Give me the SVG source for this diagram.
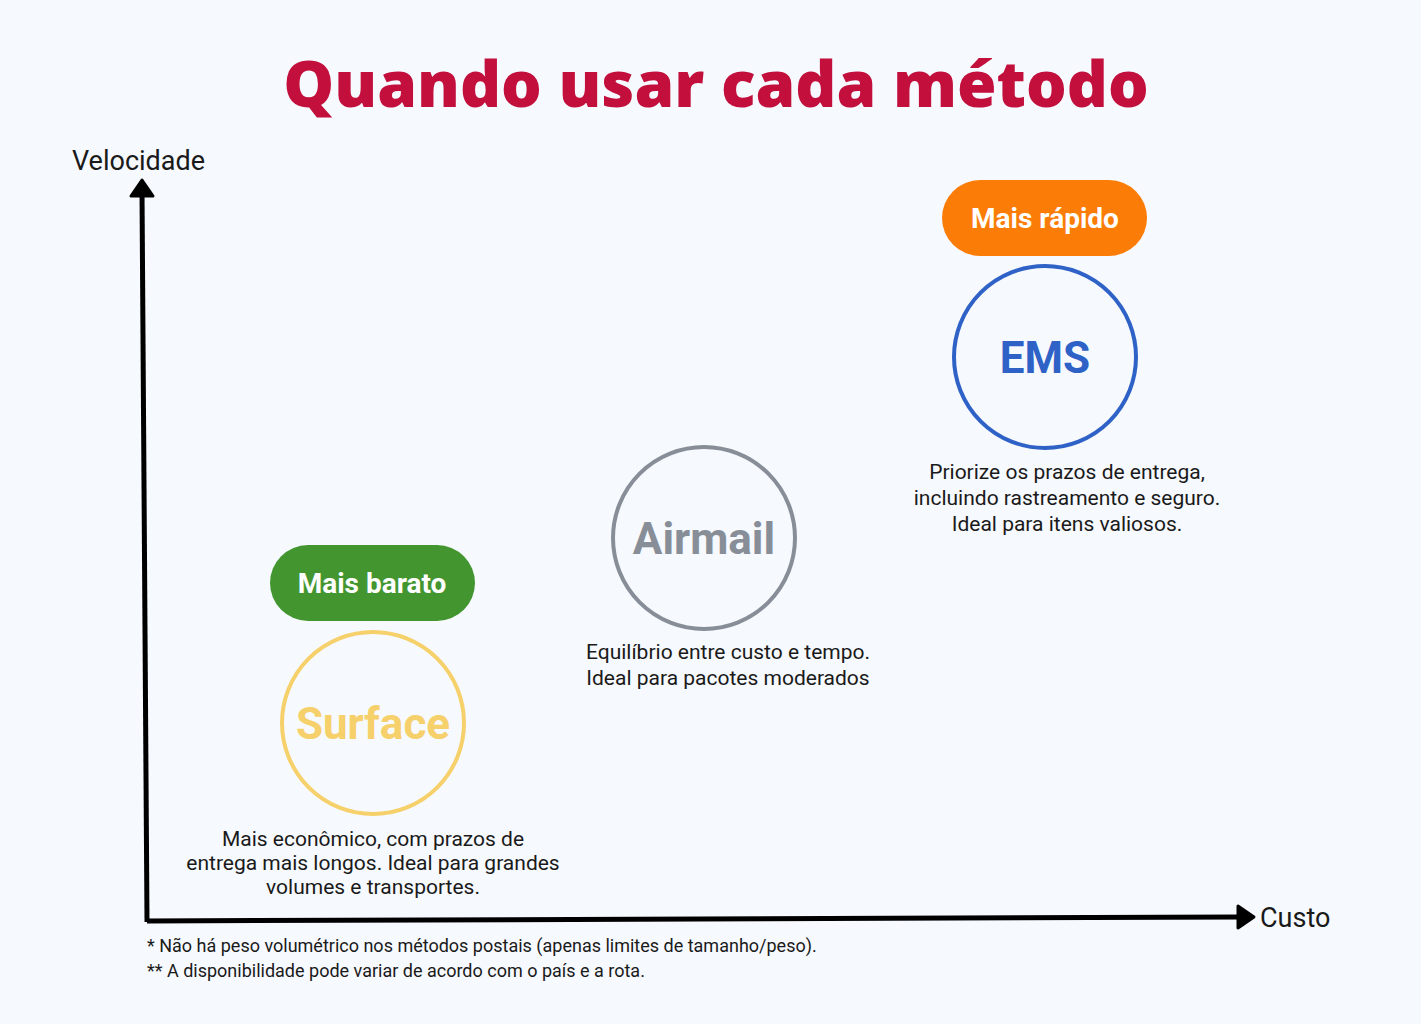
<svg xmlns="http://www.w3.org/2000/svg" width="1421" height="1024" viewBox="0 0 1421 1024">
<style>
.t{font-family:Roboto,"Liberation Sans",sans-serif;fill:#1a1a1a}
.d{font-size:21px;text-anchor:middle}
.pill{font-family:Roboto,"Liberation Sans",sans-serif;font-weight:bold;font-size:28px;fill:#fff;text-anchor:middle}
.big{font-family:Roboto,"Liberation Sans",sans-serif;font-weight:bold;font-size:44px;text-anchor:middle}
.ax{stroke:#000;stroke-width:5;fill:none}
</style>
<defs>
<marker id="ah" viewBox="0 0 10 10" refX="5" refY="5" markerWidth="5" markerHeight="5" orient="auto" markerUnits="userSpaceOnUse"><path d="M0,0 L10,5 L0,10 Z" fill="#000" stroke="#000" stroke-width="2" stroke-linejoin="round" transform="scale(1)"/></marker>
</defs>
<rect width="1421" height="1024" fill="#f6f9fd"/>
<text x="716" y="107" text-anchor="middle" font-family="'Open Sans','Liberation Sans',sans-serif" font-weight="800" font-size="64" fill="#c20f3c">Quando usar cada método</text>
<g id="connectors">
<path class="ax" d="M147,922 L142,192"/>
<path d="M131,196 L142,180 L153,196 Z" fill="#000" stroke="#000" stroke-width="3" stroke-linejoin="round"/>
<path class="ax" d="M147,921 L1240,917"/>
<path d="M1238,906 L1254,917 L1238,928 Z" fill="#000" stroke="#000" stroke-width="3" stroke-linejoin="round"/>
</g>
<text class="t" x="72" y="170" font-size="27">Velocidade</text>
<text class="t" x="1260" y="927" font-size="27">Custo</text>
<g id="surface">
<rect x="270" y="545" width="205" height="76" rx="38" fill="#43962f"/>
<text class="pill" x="372" y="593">Mais barato</text>
<circle cx="373" cy="723" r="91" fill="none" stroke="#f6d06a" stroke-width="4"/>
<text class="big" x="373" y="739" fill="#f6d06a">Surface</text>
<text class="t d" x="373" y="846">Mais econômico, com prazos de</text>
<text class="t d" x="373" y="870">entrega mais longos. Ideal para grandes</text>
<text class="t d" x="373" y="894">volumes e transportes.</text>
</g>
<g id="airmail">
<circle cx="704" cy="538" r="91" fill="none" stroke="#878e98" stroke-width="4"/>
<text class="big" x="704" y="554" fill="#878e98">Airmail</text>
<text class="t d" x="728" y="659">Equilíbrio entre custo e tempo.</text>
<text class="t d" x="728" y="685">Ideal para pacotes moderados</text>
</g>
<g id="ems">
<rect x="942" y="180" width="205" height="76" rx="38" fill="#fb7c06"/>
<text class="pill" x="1045" y="228">Mais rápido</text>
<circle cx="1045" cy="357" r="91" fill="none" stroke="#2f62c6" stroke-width="4"/>
<text class="big" x="1045" y="373" fill="#2f62c6">EMS</text>
<text class="t d" x="1067" y="479">Priorize os prazos de entrega,</text>
<text class="t d" x="1067" y="505">incluindo rastreamento e seguro.</text>
<text class="t d" x="1067" y="531">Ideal para itens valiosos.</text>
</g>
<text class="t" x="147" y="952" font-size="18">* Não há peso volumétrico nos métodos postais (apenas limites de tamanho/peso).</text>
<text class="t" x="147" y="977" font-size="18">** A disponibilidade pode variar de acordo com o país e a rota.</text>
</svg>
